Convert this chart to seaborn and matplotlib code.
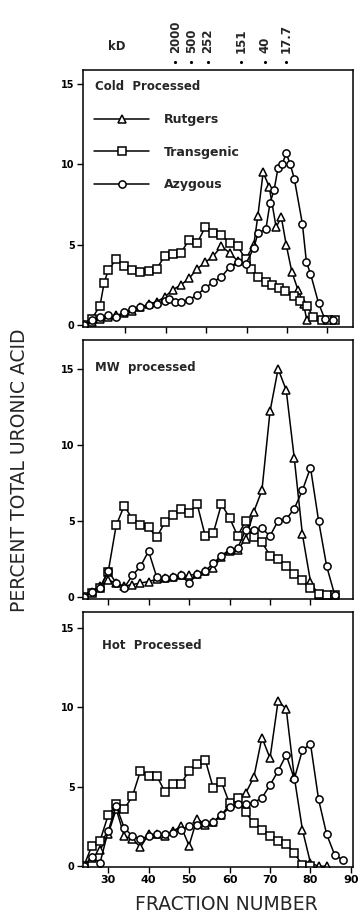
import numpy as np
import pandas as pd
import matplotlib
matplotlib.use('Agg')
import matplotlib.pyplot as plt
import matplotlib.transforms as mtransforms
from matplotlib.lines import Line2D
import seaborn as sns

# ---- data (fraction number, % total uronic acid) ----
cold_rut_x = [24, 26, 28, 30, 32, 34, 36, 38, 40, 42, 44, 46, 48, 50, 52, 54, 56, 58, 60, 62, 64, 66, 67,
              68.3, 69.8, 71.5, 72.8, 74, 75.4, 76.9, 78.3, 79.1]
cold_rut_y = [0.0, 0.2, 0.4, 0.5, 0.6, 0.75, 0.9, 1.1, 1.3, 1.45, 1.75, 2.2, 2.5, 2.9, 3.5, 3.9, 4.3, 4.9, 4.5,
              4.0, 4.1, 5.0, 6.8, 9.5, 8.6, 6.1, 6.7, 5.0, 3.3, 2.2, 1.3, 0.3]
cold_tra_x = [24, 26, 28, 29, 30, 32, 34, 36, 38, 40, 42, 44, 46, 48, 50, 52, 54, 56, 58, 60, 62, 64, 65.3,
              67, 69, 70.6, 72.2, 73.8, 75.9, 77.5, 79.1, 80.7, 82.8, 84.4, 86]
cold_tra_y = [0.0, 0.4, 1.2, 2.6, 3.4, 4.1, 3.7, 3.4, 3.3, 3.35, 3.5, 4.3, 4.4, 4.5, 5.3, 5.1, 6.1, 5.7, 5.6,
              5.1, 4.9, 4.1, 3.5, 3.0, 2.7, 2.5, 2.3, 2.1, 1.8, 1.5, 1.2, 0.5, 0.3, 0.3, 0.3]
cold_azy_x = [24, 26, 28, 30, 32, 34, 36, 38, 40, 42, 44, 45, 46.5, 48, 50, 52, 54, 56, 58, 60, 62, 64, 66,
              67, 69, 70, 71, 72, 73, 74, 75, 76, 78, 79, 80, 82, 83.5, 85.5]
cold_azy_y = [0.0, 0.3, 0.5, 0.6, 0.5, 0.8, 1.0, 1.15, 1.25, 1.3, 1.5, 1.65, 1.45, 1.45, 1.55, 1.9, 2.3, 2.7,
              3.0, 3.6, 3.9, 3.8, 4.8, 5.7, 6.0, 7.6, 8.4, 9.8, 10.0, 10.7, 10.0, 9.1, 6.3, 3.9, 3.2, 1.35,
              0.4, 0.3]

mw_rut_x = [24, 26, 28, 30, 32, 34, 36, 38, 40, 42, 44, 46, 48, 50, 52, 54, 56, 58, 60, 62, 64, 66, 68, 70,
            72, 74, 76, 78, 80, 82, 84]
mw_rut_y = [0.0, 0.3, 0.7, 1.1, 0.9, 0.7, 0.8, 0.9, 1.0, 1.15, 1.2, 1.3, 1.4, 1.4, 1.5, 1.7, 1.9, 2.6, 3.0,
            3.1, 3.8, 5.6, 7.0, 12.2, 15.0, 13.6, 9.1, 4.1, 1.0, 0.1, 0.0]
mw_tra_x = [24, 26, 28, 30, 32, 34, 36, 38, 40, 42, 44, 46, 48, 50, 52, 54, 56, 58, 60, 62, 64, 66, 68, 70,
            72, 74, 76, 78, 80, 82, 84, 86]
mw_tra_y = [0.0, 0.25, 0.6, 1.6, 4.7, 6.0, 5.1, 4.7, 4.6, 3.9, 4.9, 5.4, 5.8, 5.5, 6.1, 4.0, 4.2, 6.1, 5.2,
            4.0, 5.0, 3.9, 3.6, 2.7, 2.5, 2.0, 1.5, 1.1, 0.6, 0.2, 0.1, 0.1]
mw_azy_x = [24, 26, 28, 30, 32, 34, 36, 38, 40, 42, 44, 46, 48, 50, 52, 54, 56, 58, 60, 62, 64, 66, 68, 70,
            72, 74, 76, 78, 80, 82, 84, 86]
mw_azy_y = [0.0, 0.3, 0.6, 1.7, 0.9, 0.6, 1.4, 2.0, 3.0, 1.3, 1.2, 1.3, 1.4, 0.9, 1.5, 1.7, 2.2, 2.7, 3.1,
            3.2, 4.4, 4.4, 4.5, 4.0, 5.0, 5.1, 5.8, 7.0, 8.5, 5.0, 2.0, 0.1]

hot_rut_x = [24, 26, 28, 30, 32, 34, 36, 38, 40, 42, 44, 46, 48, 50, 52, 54, 56, 58, 60, 62, 64, 66, 68, 70,
             72, 74, 76, 78, 80, 82, 84]
hot_rut_y = [0.0, 0.5, 1.0, 2.0, 3.6, 1.9, 1.7, 1.2, 2.0, 2.0, 1.9, 2.2, 2.5, 1.3, 3.0, 2.6, 2.8, 3.2, 3.9,
             4.1, 4.6, 5.6, 8.1, 6.8, 10.4, 9.9, 5.6, 2.3, 0.2, 0.0, 0.0]
hot_tra_x = [24, 26, 28, 30, 32, 34, 36, 38, 40, 42, 44, 46, 48, 50, 52, 54, 56, 58, 60, 62, 64, 66, 68, 70,
             72, 74, 76, 78, 80]
hot_tra_y = [0.0, 1.3, 1.6, 3.2, 3.9, 3.6, 4.4, 6.0, 5.7, 5.7, 4.7, 5.2, 5.2, 6.0, 6.45, 6.7, 4.9, 5.3, 3.95,
             4.3, 3.4, 2.7, 2.3, 1.9, 1.6, 1.4, 0.85, 0.05, 0.0]
hot_azy_x = [24, 26, 28, 30, 32, 34, 36, 38, 40, 42, 44, 46, 48, 50, 52, 54, 56, 58, 60, 62, 64, 66, 68, 70,
             72, 74, 76, 78, 80, 82, 84, 86, 88]
hot_azy_y = [0.0, 0.6, 0.2, 2.2, 3.8, 2.4, 1.9, 1.7, 1.9, 2.0, 2.0, 2.1, 2.3, 2.5, 2.6, 2.7, 2.8, 3.2, 3.7,
             3.9, 3.9, 4.0, 4.3, 5.1, 6.0, 7.0, 5.5, 7.3, 7.7, 4.2, 2.0, 0.7, 0.4]

kd_labels = ['2000', '500', '252', '151', '40', '17.7']
kd_frac = [46.6, 50.5, 54.6, 62.9, 68.8, 73.9]

series_names = ['Rutgers', 'Transgenic', 'Azygous']
series_markers = ['^', 's', 'o']

sns.set_style('ticks')
plt.rcParams['font.family'] = ['DejaVu Sans']
plt.rcParams['axes.linewidth'] = 1.1

fig = plt.figure(figsize=(3.59, 9.19), dpi=100)
W, H = 359.0, 919.0
left, width = 83 / W, 270 / W


def panel(top, bottom):
    return fig.add_axes([left, 1 - bottom / H, width, (bottom - top) / H])


ax_c = panel(70, 327)
ax_m = panel(340, 599)
ax_h = panel(612, 867)

line_kw = dict(color='black', linewidth=1.1, markersize=5.2, markerfacecolor='white',
               markeredgecolor='black', markeredgewidth=1.1, sort=False, estimator=None)


def draw(ax, data):
    for (x, y), m in zip(data, series_markers):
        df = pd.DataFrame({'frac': x, 'pct': y})
        sns.lineplot(data=df, x='frac', y='pct', ax=ax, marker=m, **line_kw)


draw(ax_c, [(cold_rut_x, cold_rut_y), (cold_tra_x, cold_tra_y), (cold_azy_x, cold_azy_y)])
draw(ax_m, [(mw_rut_x, mw_rut_y), (mw_tra_x, mw_tra_y), (mw_azy_x, mw_azy_y)])
draw(ax_h, [(hot_rut_x, hot_rut_y), (hot_tra_x, hot_tra_y), (hot_azy_x, hot_azy_y)])

ylims = [(-0.12, 15.87), (-0.15, 16.9), (-0.05, 16.0)]
for ax, yl in zip([ax_c, ax_m, ax_h], ylims):
    ax.set_xlim(23.8, 90.5)
    ax.set_ylim(*yl)
    ax.set_yticks([0, 5, 10, 15])
    ax.set_yticklabels(['0', '5', '10', '15'], fontsize=7, fontweight='bold')
    ax.tick_params(direction='out', length=4, width=1.0, colors='black', pad=2)
    ax.set_xlabel('')
    ax.set_ylabel('')
    for s in ax.spines.values():
        s.set_visible(True)
        s.set_color('black')

# top panel tick marks sit a little right of the others in the original
ax_c.set_xticks([t + 4.2 for t in [30, 40, 50, 60, 70, 80]])
ax_c.set_xticklabels([])
ax_m.set_xticks([30, 40, 50, 60, 70, 80])
ax_m.set_xticklabels([])
ax_h.set_xticks([30, 40, 50, 60, 70, 80, 90])
ax_h.set_xticklabels(['30', '40', '50', '60', '70', '80', '90'], fontsize=8, fontweight='bold')

# panel titles
ax_c.text(0.045, 0.934, 'Cold  Processed', transform=ax_c.transAxes, fontsize=8.5,
          fontweight='bold', va='center', ha='left')
ax_m.text(0.045, 0.895, 'MW  processed', transform=ax_m.transAxes, fontsize=8.5,
          fontweight='bold', va='center', ha='left')
ax_h.text(0.07, 0.87, 'Hot  Processed', transform=ax_h.transAxes, fontsize=8.5,
          fontweight='bold', va='center', ha='left')

# legend
handles = [Line2D([0], [0], color='black', lw=1.1, marker=m, markersize=5.2,
                  markerfacecolor='white', markeredgecolor='black', markeredgewidth=1.1)
           for m in series_markers]
leg = ax_c.legend(handles, series_names, loc='upper left', bbox_to_anchor=(0.0, 0.875),
                  frameon=False, handlelength=4.4, handletextpad=1.2, labelspacing=1.55,
                  numpoints=1, prop={'size': 9, 'weight': 'bold'})

# molecular weight markers along the top
trans = mtransforms.blended_transform_factory(ax_c.transData, ax_c.transAxes)
for f, lab in zip(kd_frac, kd_labels):
    ax_c.plot([f], [1.031], marker='.', color='black', markersize=2.5, transform=trans, clip_on=False)
    ax_c.text(f, 1.068, lab, transform=trans, rotation=90, ha='center', va='bottom',
              fontsize=8.5, fontweight='bold')
ax_c.text(0.126, 1.09, 'kD', transform=ax_c.transAxes, ha='center', va='center',
          fontsize=8.5, fontweight='bold')

fig.text(20 / W, 1 - 470 / H, 'PERCENT TOTAL URONIC ACID', rotation=90, ha='center', va='center',
         fontsize=13.5)
fig.text(226 / W, 1 - 905 / H, 'FRACTION NUMBER', ha='center', va='center', fontsize=13.5)

fig.savefig('out.png', dpi=100)
